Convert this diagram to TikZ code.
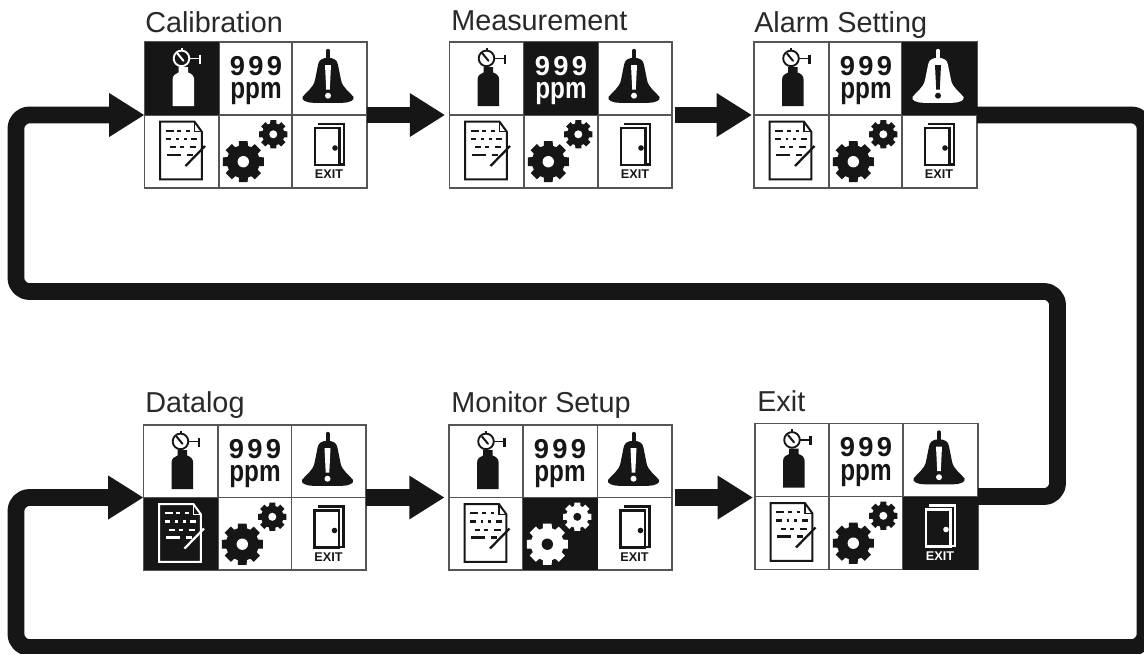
\documentclass[tikz,border=0pt]{standalone}
\usepackage{fontspec}
\setmainfont{Liberation Sans}
\usetikzlibrary{arrows.meta}
\definecolor{ink}{HTML}{161616}
\definecolor{rulegrey}{HTML}{555555}
\colorlet{ifg}{ink}
\colorlet{ibg}{white}
\tikzset{
  wire/.style={draw=ink,line width=12.6pt,line join=round},
  tipped/.style={wire,-{Triangle[length=26.5pt,width=31pt,fill=ink]}},
  panelbox/.style={draw=rulegrey,line width=1.1pt,fill=white,rectangle,inner sep=0pt,outer sep=0pt},
  divider/.style={draw=rulegrey,line width=1.1pt},
  paneltitle/.style={anchor=base west,inner sep=0pt,text=ink!92!white,font=\fontsize{21.6pt}{24pt}\selectfont},
  bottle/.pic={
    \draw[ifg,line width=1.4pt] (37,16.4) circle (7.8);
    \draw[ifg,line width=1.5pt] (37,8.5) -- (37,5.6);
    \draw[ifg,line width=1.3pt] (44.8,16.4) -- (55.5,16.4);
    \draw[ifg,line width=1.6pt] (55.5,12.6) -- (55.5,21.8);
    \draw[ifg,line width=1.5pt,line cap=round] (33.2,11.8) -- (39,18.8);
    \fill[ifg] (28,64) -- (28,38) .. controls (28,33.5) and (31,31.5) .. (34,30.5) -- (34,25) -- (43.5,25) -- (43.5,30.5) .. controls (46.7,31.5) and (49.7,33.5) .. (49.7,38) -- (49.7,64) -- cycle;
  },
  readout/.pic={
    \node[anchor=base,inner sep=0pt,text=ifg,font=\bfseries\fontsize{20.5pt}{22pt}\selectfont] (-n) at (37,33) {\addfontfeature{LetterSpace=12}999};
    \node[anchor=base,inner sep=0pt,text=ifg,font=\bfseries\fontsize{22.5pt}{24pt}\selectfont] (-u) at (37,56.5) {\scalebox{0.81}[1]{ppm}};
  },
  bell/.pic={
    \draw[ifg,line width=3pt,line cap=round] (36,8.8) -- (36,20);
    \fill[ifg] (36,15.8) .. controls (41.5,15.8) and (45.5,18) .. (46,23)
      -- (49,38) .. controls (50.5,46) and (58,50) .. (61.5,55)
      .. controls (63,58) and (58,60.8) .. (50,60.8) -- (22,60.8)
      .. controls (14,60.8) and (9,58) .. (10.5,55)
      .. controls (14,50) and (21.5,46) .. (23,38)
      -- (26,23) .. controls (26.5,18) and (30.5,15.8) .. (36,15.8) -- cycle;
    \fill[ibg] (33,23) -- (39,23) -- (37.8,47.5) -- (34.2,47.5) -- cycle;
    \fill[ibg] (36,53.7) circle (3);
  },
  logsheet/.pic={
    \draw[ifg,line width=1.5pt,line join=miter] (50,6.7) -- (15.7,6.7) -- (15.7,64.3) -- (57.3,64.3) -- (57.3,16.7) -- cycle;
    \draw[ifg,line width=.8pt] (50,6.7) -- (50,16.7) -- (57.3,16.7);
    \draw[ifg,line width=1.6pt]
      (21,15.7) -- (29.3,15.7) (32.7,15.7) -- (36.7,15.7) (41.7,15.7) -- (45,15.7)
      (21,24) -- (26.7,24) (31.7,24) -- (34.3,24) (39.3,24) -- (42.3,24) (46.7,24) -- (52.7,24)
      (25.7,32.3) -- (31,32.3) (35,32.3) -- (39.3,32.3) (45,32.3) -- (51.7,32.3)
      (22.3,40) -- (36,40) (42.3,40) -- (48.3,40);
    \draw[ifg,line width=1.7pt] (41,51) -- (60.5,31);
  },
  geartrain/.pic={
    \begin{scope}[shift={(24.3,46.7)}]
      \fill[ifg] (-12:21) \foreach \a in {0,45,...,315}{ -- (\a-12:21) -- (\a+12:21) -- (\a+16:16.5) -- (\a+29:16.5)} -- cycle;
      \fill[ibg] (0,0) circle (5.7);
    \end{scope}
    \begin{scope}[shift={(54.3,19.3)}]
      \fill[ifg] (-12:14.5) \foreach \a in {0,45,...,315}{ -- (\a-12:14.5) -- (\a+12:14.5) -- (\a+16:11.2) -- (\a+29:11.2)} -- cycle;
      \fill[ibg] (0,0) circle (4);
    \end{scope}
  },
  exitdoor/.pic={
    \draw[ifg,line width=2pt] (26,9) -- (52,9) -- (52,49.5) -- (47.5,49.5);
    \draw[ifg,fill=ibg,line width=1.7pt] (23,13) rectangle (47.5,50);
    \fill[ifg] (43,33) circle (2.8);
    \node[anchor=base,inner sep=0pt,text=ifg,font=\bfseries\fontsize{9.5pt}{11pt}\selectfont] (-x) at (37,63.5) {EXIT};
  },
}
\newcommand{\cellmode}[1]{\ifnum\act=#1\relax\colorlet{ifg}{white}\colorlet{ibg}{ink}\else\colorlet{ifg}{ink}\colorlet{ibg}{white}\fi}
\begin{document}
\begin{tikzpicture}[x=0.75pt,y=-0.75pt]
\clip (0,0) rectangle (1144,653);
\fill[white] (0,0) rectangle (1144,653);
% panels
\foreach \nm/\xa/\xb/\xc/\xd/\ya/\yb/\yc/\ti/\act/\tx/\ty in {
  cal/144.5/219/292/367/42/115/188/Calibration/1/145/32,
  mea/449.5/524/598/672/42/115/188/Measurement/2/451/31,
  ala/754/829/902/977/42/115/188/Alarm Setting/3/754/32,
  dat/143.5/218/291.5/366/425/497.5/570/Datalog/4/145/412,
  mon/449/523/597.5/672/425/497.5/570/Monitor Setup/5/451/412,
  exi/755/829/903/978/423.5/496.5/569.5/Exit/6/757/411}{
  \node[paneltitle] (t\nm) at (\tx,\ty) {\ti};
  \node[panelbox,minimum width={(\xd-\xa)*0.75pt},minimum height={(\yc-\ya)*0.75pt}] (\nm) at ({(\xa+\xd)/2},{(\ya+\yc)/2}) {};
  \draw[divider] (\xb,\ya) -- (\xb,\yc) (\xc,\ya) -- (\xc,\yc) (\xa,\yb) -- (\xd,\yb);
  \ifnum\act=1 \fill[ink] (\xa,\ya) rectangle (\xb,\yb);\fi
  \ifnum\act=2 \fill[ink] (\xb,\ya) rectangle (\xc,\yb);\fi
  \ifnum\act=3 \fill[ink] (\xc,\ya) rectangle (\xd,\yb);\fi
  \ifnum\act=4 \fill[ink] (\xa,\yb) rectangle (\xb,\yc);\fi
  \ifnum\act=5 \fill[ink] (\xb,\yb) rectangle (\xc,\yc);\fi
  \ifnum\act=6 \fill[ink] (\xc,\yb) rectangle (\xd,\yc);\fi
  \begingroup\cellmode{1}\pic (\nm a) at (\xa,\ya) {bottle};\endgroup
  \begingroup\cellmode{2}\pic (\nm b) at (\xb,\ya) {readout};\endgroup
  \begingroup\cellmode{3}\pic (\nm c) at (\xc,\ya) {bell};\endgroup
  \begingroup\cellmode{4}\pic (\nm d) at (\xa,\yb) {logsheet};\endgroup
  \begingroup\cellmode{5}\pic (\nm e) at (\xb,\yb) {geartrain};\endgroup
  \begingroup\cellmode{6}\pic (\nm f) at (\xc,\yb) {exitdoor};\endgroup
}
% routing points
\coordinate (ra) at (1145,115);
\coordinate (rb) at (1145,647.5);
\coordinate (rc) at (16,647.5);
\coordinate (rd) at (16,497.5);
\coordinate (re) at (1057.5,496.5);
\coordinate (rf) at (1057.5,291.5);
\coordinate (rg) at (16,291.5);
\coordinate (rh) at (16,115);
% connectors
\draw[tipped] (cal.east) -- ([xshift=-3.3pt]mea.west);
\draw[tipped] ([xshift=2pt]mea.east) -- ([xshift=-1.5pt]ala.west);
\draw[tipped] (dat.east) -- ([xshift=-3.3pt]mon.west);
\draw[tipped] ([xshift=2pt]mon.east) -- ([xshift=-1.5pt]exi.west |- mon.east);
\draw[tipped,rounded corners=10pt] (ala.east) -- (ra) -- (rb) -- (rc) -- (rd) -- (dat.west);
\draw[tipped,rounded corners=10pt] (exi.east) -- (re) -- (rf) -- (rg) -- (rh) -- (cal.west);
\end{tikzpicture}
\end{document}
